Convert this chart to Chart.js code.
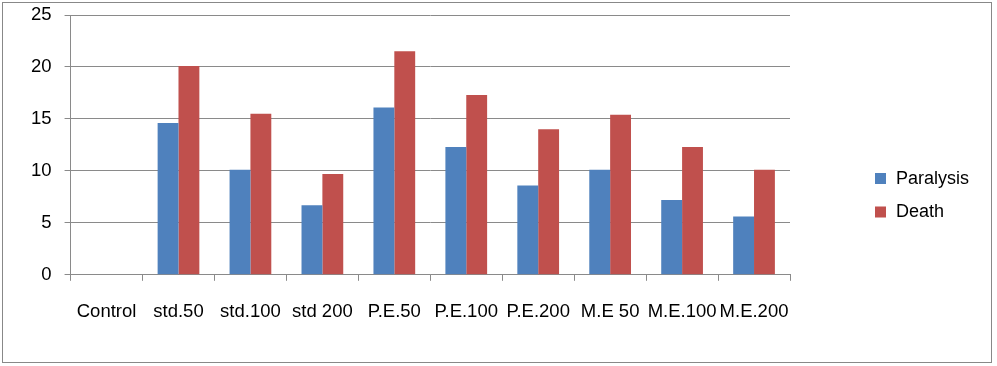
<!DOCTYPE html>
<html>
<head>
<meta charset="utf-8">
<script src="https://cdn.jsdelivr.net/npm/chart.js@4.4.0/dist/chart.umd.min.js"></script>
<style>
html,body{margin:0;padding:0;background:#fff;}
#wrap{position:relative;width:997px;height:366px;}
</style>
</head>
<body>
<div id="wrap"><canvas id="c" width="997" height="366"></canvas></div>
<script>
const categories = ["Control","std.50","std.100","std 200","P.E.50","P.E.100","P.E.200","M.E 50","M.E.100","M.E.200"];
const paralysis = [0, 14.6, 10.1, 6.7, 16.1, 12.3, 8.6, 10.1, 7.2, 5.6];
const death = [0, 20.1, 15.5, 9.7, 21.5, 17.3, 14.0, 15.4, 12.3, 10.1];
const seriesNames = ["Paralysis","Death"];
const seriesColors = ["#4F81BD","#C0504D"];
const yTicks = [0,5,10,15,20,25];

const FONT = "'Liberation Sans', Arial, sans-serif";
const gridGray = "#8a8a8a";

const borderPlugin = {
  id: 'outerBorder',
  beforeDraw(chart){
    const ctx = chart.ctx;
    ctx.save();
    ctx.fillStyle = '#fff';
    ctx.fillRect(0,0,chart.width,chart.height);
    ctx.strokeStyle = '#888888';
    ctx.lineWidth = 1;
    ctx.strokeRect(2.5, 2.5, 989, 360);
    ctx.restore();
  }
};

const legendPlugin = {
  id: 'customLegend',
  afterDraw(chart){
    const ctx = chart.ctx;
    ctx.save();
    chart.data.datasets.forEach((ds, i) => {
      const y = 173 + i * 33.5;
      ctx.fillStyle = ds.backgroundColor;
      ctx.fillRect(875, y, 11, 11);
      ctx.fillStyle = '#000';
      ctx.font = "18px " + FONT;
      ctx.textBaseline = 'middle';
      ctx.textAlign = 'left';
      ctx.fillText(ds.label, 896, y + 6);
    });
    ctx.restore();
  }
};

new Chart(document.getElementById('c'), {
  type: 'bar',
  data: {
    labels: categories,
    datasets: [
      {label: seriesNames[0], data: paralysis, backgroundColor: seriesColors[0], borderWidth: 0},
      {label: seriesNames[1], data: death, backgroundColor: seriesColors[1], borderWidth: 0}
    ]
  },
  options: {
    responsive: false,
    animation: false,
    devicePixelRatio: 1,
    layout: {padding: {left: 18, right: 207, top: 15, bottom: 23}},
    datasets: {bar: {categoryPercentage: 0.58, barPercentage: 1.0}},
    plugins: {legend: {display: false}, tooltip: {enabled: false}},
    scales: {
      x: {
        grid: {display: true, drawOnChartArea: false, drawTicks: true, tickLength: 6, offset: true, color: gridGray},
        border: {display: true, color: gridGray},
        ticks: {color: '#000', font: {family: FONT, size: 18.5}, padding: 20, maxRotation: 0, minRotation: 0, autoSkip: false}
      },
      y: {
        min: 0, max: 25,
        afterBuildTicks(axis){ axis.ticks = yTicks.map(v => ({value: v})); },
        grid: {color: gridGray, tickLength: 6},
        border: {display: true, color: gridGray},
        ticks: {color: '#000', font: {family: FONT, size: 18.5, lineHeight: 0.1}, padding: 13}
      }
    }
  },
  plugins: [borderPlugin, legendPlugin]
});
</script>
</body>
</html>
